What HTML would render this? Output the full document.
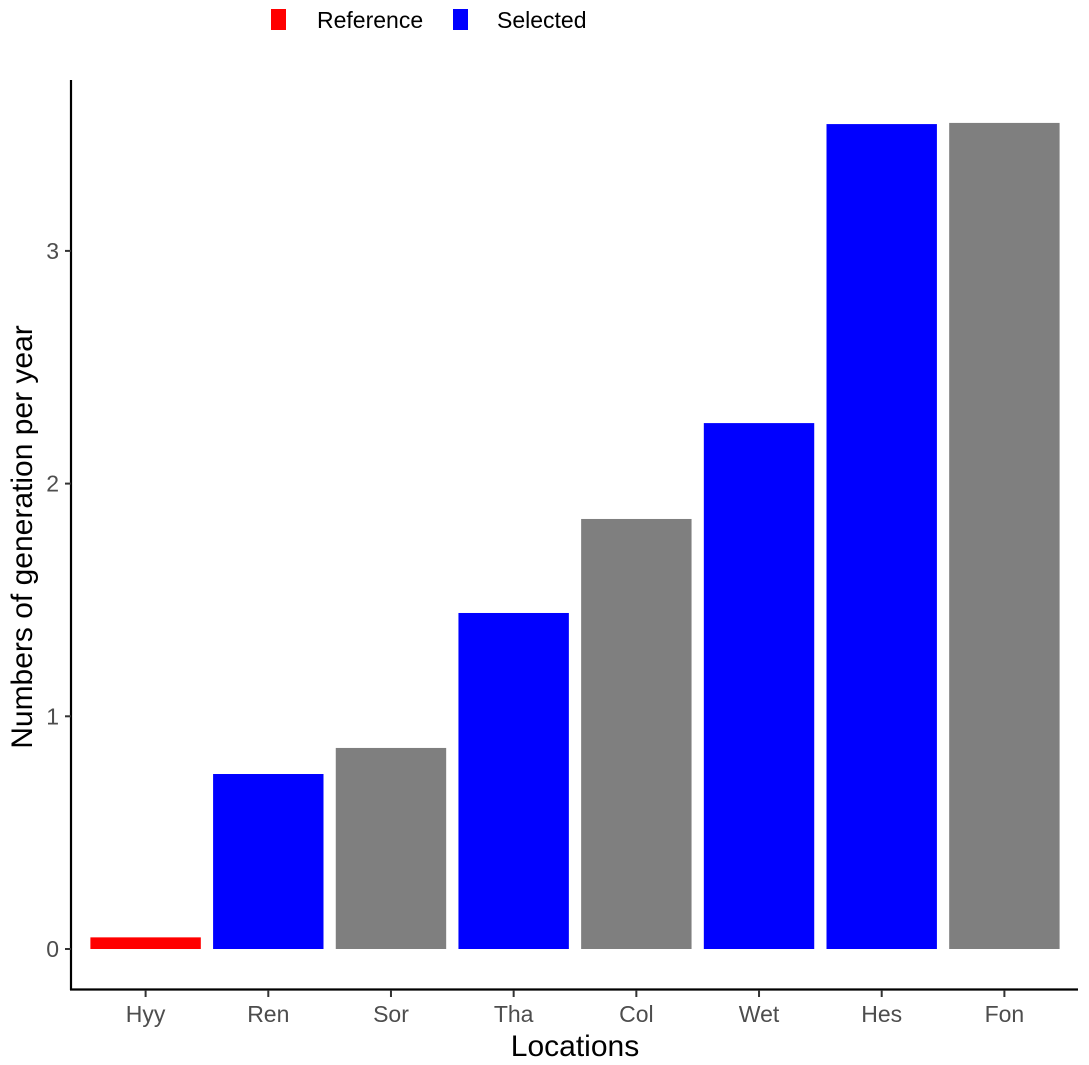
<!DOCTYPE html>
<html><head><meta charset="utf-8"><style>
html,body{margin:0;padding:0;background:#fff;}
svg{display:block;font-family:"Liberation Sans",sans-serif;}
</style></head><body>
<svg id="chart" width="1089" height="1065">
<g id="legend">
<rect x="271" y="9" width="15" height="21" fill="#ff0000"/>
<text x="317" y="28" font-size="23" fill="#000">Reference</text>
<rect x="453" y="9" width="15" height="21" fill="#0000ff"/>
<text x="497" y="28" font-size="23" fill="#000">Selected</text>
</g>
<g id="bars"></g>
<g id="axes"></g>
<text transform="translate(32,537) rotate(-90)" text-anchor="middle" font-size="30" fill="#000">Numbers of generation per year</text>
<text x="575" y="1056" text-anchor="middle" font-size="30" fill="#000">Locations</text>
</svg>
<script>
const categories = ["Hyy","Ren","Sor","Tha","Col","Wet","Hes","Fon"];
const values = [0.05,0.752,0.864,1.444,1.848,2.26,3.545,3.55];
const groups = ["Reference","Selected","Other","Selected","Other","Selected","Selected","Other"];
const yTicks = [0,1,2,3];
const colors = {Reference:"#ff0000",Selected:"#0000ff",Other:"#7f7f7f"};
const NS="http://www.w3.org/2000/svg";
const left=72,right=1078,y0=949,pxPerUnit=232.7;
const step=(right-left)/(categories.length+0.2);
function xc(i){return left+(0.6+i)*step;}
function ys(v){return y0-v*pxPerUnit;}
const bw=step*0.9;
const bars=document.getElementById('bars');
categories.forEach((c,i)=>{
  const r=document.createElementNS(NS,'rect');
  r.setAttribute('x',xc(i)-bw/2);
  r.setAttribute('y',ys(values[i]));
  r.setAttribute('width',bw);
  r.setAttribute('height',y0-ys(values[i]));
  r.setAttribute('fill',colors[groups[i]]);
  
  
  bars.appendChild(r);
});
const ax=document.getElementById('axes');
function line(x1,y1,x2,y2,name){
  const l=document.createElementNS(NS,'line');
  l.setAttribute('x1',x1);l.setAttribute('y1',y1);l.setAttribute('x2',x2);l.setAttribute('y2',y2);
  l.setAttribute('stroke','#000');l.setAttribute('stroke-width','2.2');
  
  
  ax.appendChild(l);
}
line(left-1,80,left-1,990,'y-axis-line');
line(left-2,989.5,right,989.5,'x-axis-line');
yTicks.forEach(t=>{
  const l=document.createElementNS(NS,'line');
  l.setAttribute('x1',65);l.setAttribute('x2',71);l.setAttribute('y1',ys(t));l.setAttribute('y2',ys(t));
  l.setAttribute('stroke','#333');l.setAttribute('stroke-width','2');
  
  
  ax.appendChild(l);
  const tx=document.createElementNS(NS,'text');
  tx.setAttribute('x',59);tx.setAttribute('y',ys(t)+8);
  tx.setAttribute('text-anchor','end');tx.setAttribute('font-size','23');tx.setAttribute('fill','#4d4d4d');
  tx.textContent=t;
  
  
  ax.appendChild(tx);
});
categories.forEach((c,i)=>{
  const l=document.createElementNS(NS,'line');
  l.setAttribute('x1',xc(i));l.setAttribute('x2',xc(i));l.setAttribute('y1',990);l.setAttribute('y2',997);
  l.setAttribute('stroke','#333');l.setAttribute('stroke-width','2');
  
  
  ax.appendChild(l);
  const tx=document.createElementNS(NS,'text');
  tx.setAttribute('x',xc(i));tx.setAttribute('y',1022);
  tx.setAttribute('text-anchor','middle');tx.setAttribute('font-size','23');tx.setAttribute('fill','#4d4d4d');
  tx.textContent=c;
  
  
  ax.appendChild(tx);
});
</script>
</body></html>
